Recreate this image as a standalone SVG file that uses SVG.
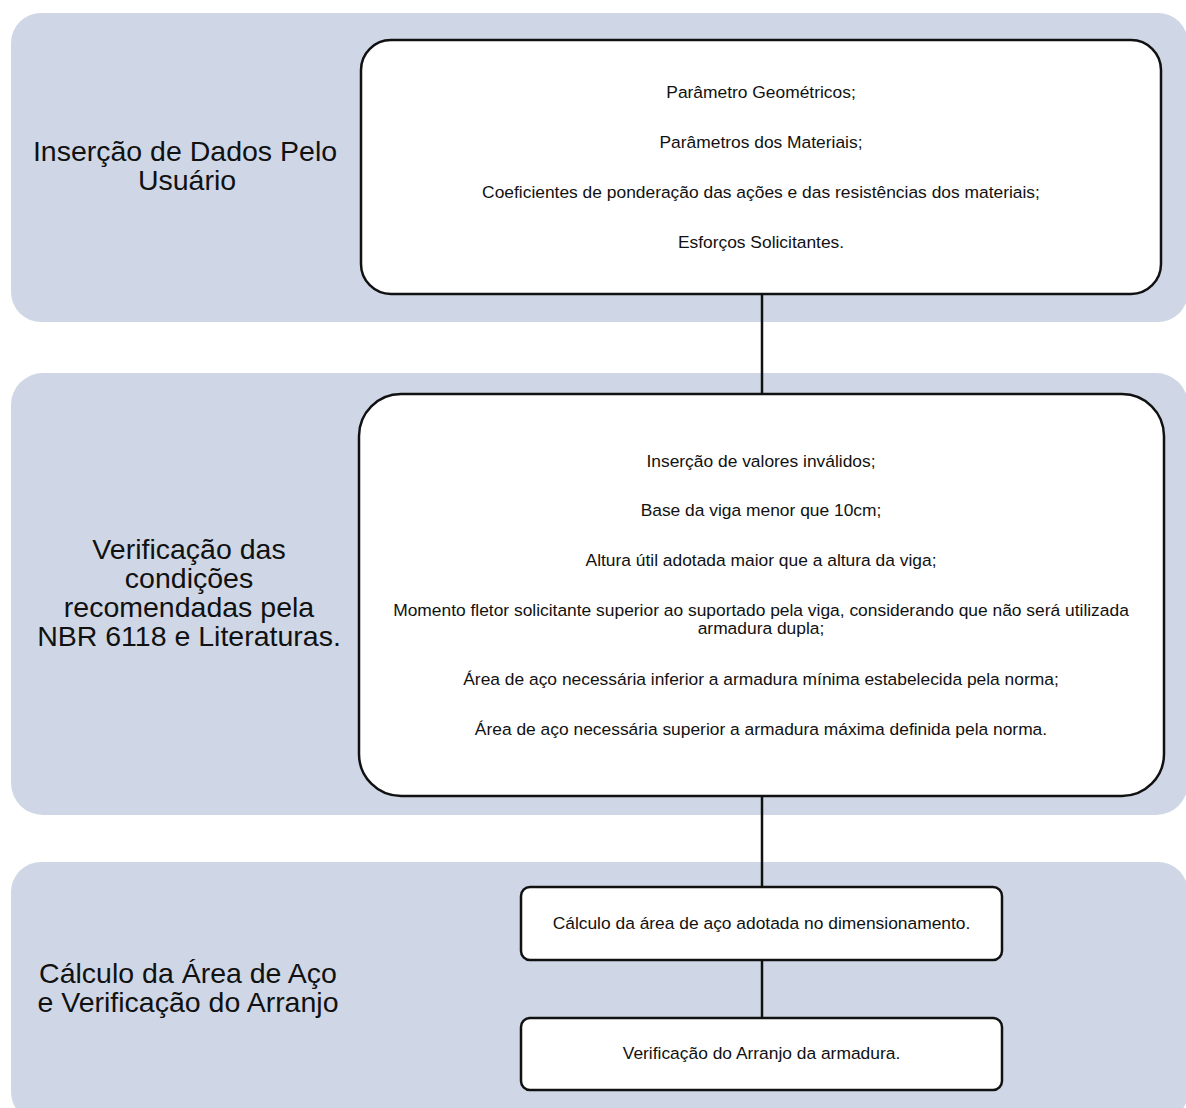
<svg xmlns="http://www.w3.org/2000/svg" width="1186" height="1108" viewBox="0 0 1186 1108">
<style>
.lane{fill:#cfd7e6;stroke:none}
.box{fill:#ffffff;stroke:#111;stroke-width:2.5}
.title{font-family:"Liberation Sans",Arial,sans-serif;font-size:28.5px;fill:#111;text-anchor:middle}
.txt{font-family:"Liberation Sans",Arial,sans-serif;font-size:17.4px;fill:#111;text-anchor:middle}
.conn{stroke:#111;stroke-width:2.5;fill:none}
</style>
<rect width="1186" height="1108" fill="#ffffff"/>
<g id="lane1">
<rect class="lane" x="11" y="13" width="1177" height="309" rx="30"/>
<text class="title"><tspan x="185" y="161">Inserção de Dados Pelo</tspan><tspan x="187" y="190">Usuário</tspan></text>
</g>
<g id="lane2">
<rect class="lane" x="11" y="373" width="1177" height="442" rx="32"/>
<text class="title"><tspan x="189" y="559">Verificação das</tspan><tspan x="189" y="588">condições</tspan><tspan x="189" y="617">recomendadas pela</tspan><tspan x="189" y="646">NBR 6118 e Literaturas.</tspan></text>
</g>
<g id="lane3">
<rect class="lane" x="11" y="862" width="1177" height="260" rx="30"/>
<text class="title"><tspan x="188" y="983">Cálculo da Área de Aço</tspan><tspan x="188" y="1012">e Verificação do Arranjo</tspan></text>
</g>
<g id="connectors">
<line class="conn" x1="762" y1="294" x2="762" y2="394"/>
<line class="conn" x1="762" y1="796" x2="762" y2="887"/>
<line class="conn" x1="762" y1="960" x2="762" y2="1018"/>
</g>
<g id="box1">
<rect class="box" x="361" y="40" width="800" height="254" rx="30"/>
<text class="txt" x="761" y="98">Parâmetro Geométricos;</text>
<text class="txt" x="761" y="148">Parâmetros dos Materiais;</text>
<text class="txt" x="761" y="198">Coeficientes de ponderação das ações e das resistências dos materiais;</text>
<text class="txt" x="761" y="248">Esforços Solicitantes.</text>
</g>
<g id="box2">
<rect class="box" x="359" y="394" width="805" height="402" rx="42"/>
<text class="txt" x="761" y="467">Inserção de valores inválidos;</text>
<text class="txt" x="761" y="516">Base da viga menor que 10cm;</text>
<text class="txt" x="761" y="566">Altura útil adotada maior que a altura da viga;</text>
<text class="txt" x="761" y="616">Momento fletor solicitante superior ao suportado pela viga, considerando que não será utilizada</text>
<text class="txt" x="761" y="634">armadura dupla;</text>
<text class="txt" x="761" y="685">Área de aço necessária inferior a armadura mínima estabelecida pela norma;</text>
<text class="txt" x="761" y="735">Área de aço necessária superior a armadura máxima definida pela norma.</text>
</g>
<g id="box3">
<rect class="box" x="521" y="887" width="481" height="73" rx="9"/>
<text class="txt" x="761.5" y="929">Cálculo da área de aço adotada no dimensionamento.</text>
</g>
<g id="box4">
<rect class="box" x="521" y="1018" width="481" height="72" rx="9"/>
<text class="txt" x="761.5" y="1059">Verificação do Arranjo da armadura.</text>
</g>
</svg>
